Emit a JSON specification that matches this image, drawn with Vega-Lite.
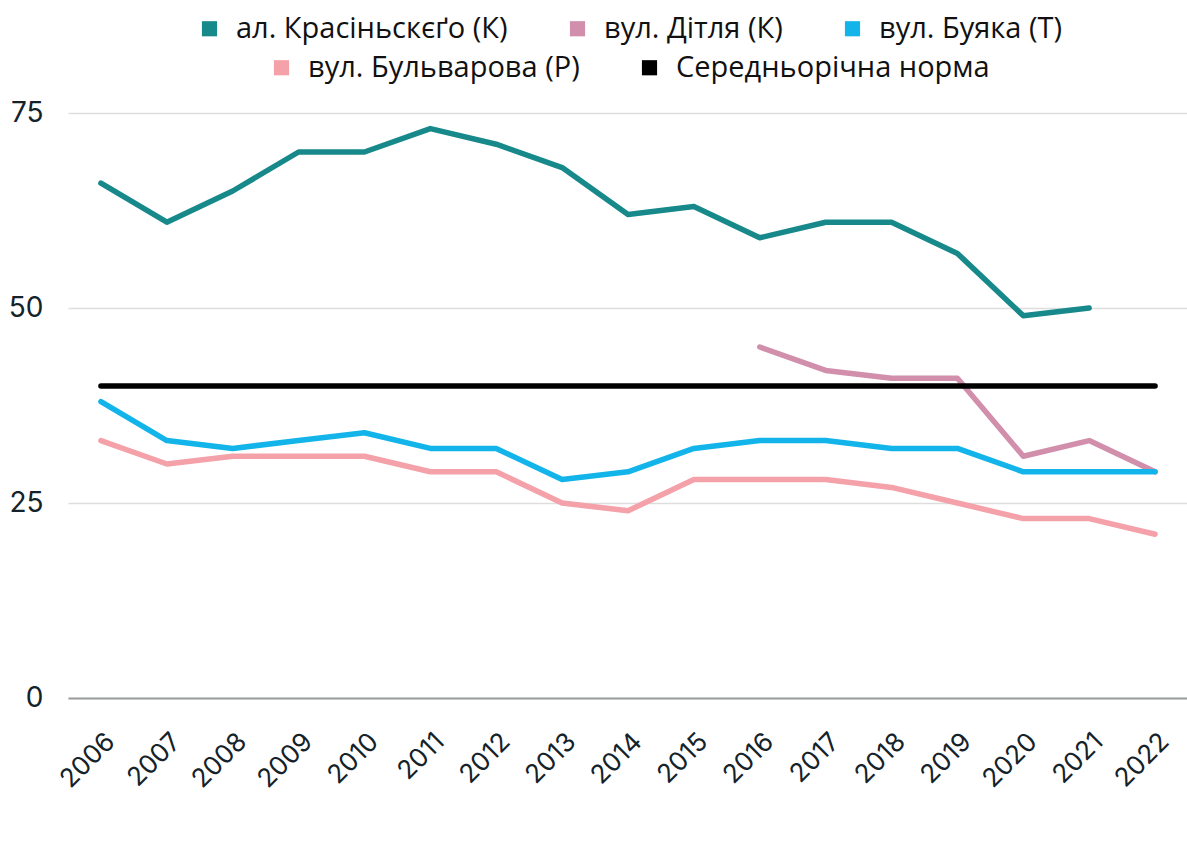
{
  "$schema": "https://vega.github.io/schema/vega-lite/v6.json",
  "width": 1120,
  "height": 585,
  "autosize": "none",
  "padding": {"left": 68, "top": 113, "right": 0, "bottom": 145},
  "background": "white",
  "datasets": {
    "rows": [
      {"year": "2006", "series": "ал. Красіньскєґо (К)", "value": 66},
      {"year": "2007", "series": "ал. Красіньскєґо (К)", "value": 61},
      {"year": "2008", "series": "ал. Красіньскєґо (К)", "value": 65},
      {"year": "2009", "series": "ал. Красіньскєґо (К)", "value": 70},
      {"year": "2010", "series": "ал. Красіньскєґо (К)", "value": 70},
      {"year": "2011", "series": "ал. Красіньскєґо (К)", "value": 73},
      {"year": "2012", "series": "ал. Красіньскєґо (К)", "value": 71},
      {"year": "2013", "series": "ал. Красіньскєґо (К)", "value": 68},
      {"year": "2014", "series": "ал. Красіньскєґо (К)", "value": 62},
      {"year": "2015", "series": "ал. Красіньскєґо (К)", "value": 63},
      {"year": "2016", "series": "ал. Красіньскєґо (К)", "value": 59},
      {"year": "2017", "series": "ал. Красіньскєґо (К)", "value": 61},
      {"year": "2018", "series": "ал. Красіньскєґо (К)", "value": 61},
      {"year": "2019", "series": "ал. Красіньскєґо (К)", "value": 57},
      {"year": "2020", "series": "ал. Красіньскєґо (К)", "value": 49},
      {"year": "2021", "series": "ал. Красіньскєґо (К)", "value": 50},
      {"year": "2016", "series": "вул. Дітля (К)", "value": 45},
      {"year": "2017", "series": "вул. Дітля (К)", "value": 42},
      {"year": "2018", "series": "вул. Дітля (К)", "value": 41},
      {"year": "2019", "series": "вул. Дітля (К)", "value": 41},
      {"year": "2020", "series": "вул. Дітля (К)", "value": 31},
      {"year": "2021", "series": "вул. Дітля (К)", "value": 33},
      {"year": "2022", "series": "вул. Дітля (К)", "value": 29},
      {"year": "2006", "series": "вул. Буяка (Т)", "value": 38},
      {"year": "2007", "series": "вул. Буяка (Т)", "value": 33},
      {"year": "2008", "series": "вул. Буяка (Т)", "value": 32},
      {"year": "2009", "series": "вул. Буяка (Т)", "value": 33},
      {"year": "2010", "series": "вул. Буяка (Т)", "value": 34},
      {"year": "2011", "series": "вул. Буяка (Т)", "value": 32},
      {"year": "2012", "series": "вул. Буяка (Т)", "value": 32},
      {"year": "2013", "series": "вул. Буяка (Т)", "value": 28},
      {"year": "2014", "series": "вул. Буяка (Т)", "value": 29},
      {"year": "2015", "series": "вул. Буяка (Т)", "value": 32},
      {"year": "2016", "series": "вул. Буяка (Т)", "value": 33},
      {"year": "2017", "series": "вул. Буяка (Т)", "value": 33},
      {"year": "2018", "series": "вул. Буяка (Т)", "value": 32},
      {"year": "2019", "series": "вул. Буяка (Т)", "value": 32},
      {"year": "2020", "series": "вул. Буяка (Т)", "value": 29},
      {"year": "2021", "series": "вул. Буяка (Т)", "value": 29},
      {"year": "2022", "series": "вул. Буяка (Т)", "value": 29},
      {"year": "2006", "series": "вул. Бульварова (Р)", "value": 33},
      {"year": "2007", "series": "вул. Бульварова (Р)", "value": 30},
      {"year": "2008", "series": "вул. Бульварова (Р)", "value": 31},
      {"year": "2009", "series": "вул. Бульварова (Р)", "value": 31},
      {"year": "2010", "series": "вул. Бульварова (Р)", "value": 31},
      {"year": "2011", "series": "вул. Бульварова (Р)", "value": 29},
      {"year": "2012", "series": "вул. Бульварова (Р)", "value": 29},
      {"year": "2013", "series": "вул. Бульварова (Р)", "value": 25},
      {"year": "2014", "series": "вул. Бульварова (Р)", "value": 24},
      {"year": "2015", "series": "вул. Бульварова (Р)", "value": 28},
      {"year": "2016", "series": "вул. Бульварова (Р)", "value": 28},
      {"year": "2017", "series": "вул. Бульварова (Р)", "value": 28},
      {"year": "2018", "series": "вул. Бульварова (Р)", "value": 27},
      {"year": "2019", "series": "вул. Бульварова (Р)", "value": 25},
      {"year": "2020", "series": "вул. Бульварова (Р)", "value": 23},
      {"year": "2021", "series": "вул. Бульварова (Р)", "value": 23},
      {"year": "2022", "series": "вул. Бульварова (Р)", "value": 21},
      {"year": "2006", "series": "Середньорічна норма", "value": 40},
      {"year": "2022", "series": "Середньорічна норма", "value": 40}
    ]
  },
  "data": {"name": "rows"},
  "encoding": {
    "x": {
      "field": "year", "type": "ordinal",
      "scale": {"type": "point", "padding": 0.5, "domain": ["2006","2007","2008","2009","2010","2011","2012","2013","2014","2015","2016","2017","2018","2019","2020","2021","2022"]},
      "axis": {
        "title": null, "labelAngle": -45, "labelFont": "Inter", "labelFontSize": 26,
        "labelColor": "#14222a", "ticks": false, "domainColor": "#9a9e9e", "domainWidth": 2,
        "labelPadding": 30, "grid": false
      }
    },
    "y": {
      "field": "value", "type": "quantitative",
      "scale": {"domain": [0, 75]},
      "axis": {
        "title": null, "values": [0, 25, 50, 75], "labelFont": "Inter", "labelFontSize": 28,
        "labelColor": "#14222a", "ticks": false, "domain": false, "labelPadding": 25,
        "gridColor": "#dddddd", "gridWidth": 1.5
      }
    }
  },
  "layer": [
    {
      "transform": [{"filter": "datum.series == 'ал. Красіньскєґо (К)' || datum.series == 'вул. Дітля (К)' || datum.series == 'вул. Буяка (Т)'"}],
      "mark": {"type": "line", "strokeWidth": 5.5, "strokeCap": "round", "strokeJoin": "round"},
      "encoding": {
        "color": {
          "field": "series", "type": "nominal",
          "scale": {"domain": ["ал. Красіньскєґо (К)", "вул. Дітля (К)", "вул. Буяка (Т)"], "range": ["#17898a", "#d18fab", "#13b4ea"]},
          "legend": {
            "title": null, "orient": "top", "direction": "horizontal", "offset": 30,
            "symbolType": "square", "symbolSize": 230, "symbolStrokeWidth": 0,
            "labelFont": "Open Sans", "labelFontSize": 29, "labelColor": "#111111",
            "columnPadding": 55, "labelOffset": 12, "labelLimit": 500,
            "encode": {"symbols": {"update": {"fill": {"scale": "color", "field": "value"}, "strokeWidth": {"value": 0}}}}
          }
        }
      }
    },
    {
      "transform": [{"filter": "datum.series == 'вул. Бульварова (Р)' || datum.series == 'Середньорічна норма'"}],
      "mark": {"type": "line", "strokeWidth": 5.5, "strokeCap": "round", "strokeJoin": "round"},
      "encoding": {
        "stroke": {
          "field": "series", "type": "nominal",
          "scale": {"domain": ["вул. Бульварова (Р)", "Середньорічна норма"], "range": ["#f4a1a9", "#000000"]},
          "legend": {
            "title": null, "orient": "top", "direction": "horizontal", "offset": 30,
            "symbolType": "square", "symbolSize": 230, "symbolStrokeWidth": 0,
            "labelFont": "Open Sans", "labelFontSize": 29, "labelColor": "#111111",
            "columnPadding": 55, "labelOffset": 12, "labelLimit": 500,
            "encode": {"symbols": {"update": {"fill": {"scale": "stroke", "field": "value"}, "strokeWidth": {"value": 0}}}}
          }
        }
      }
    }
  ],
  "config": {
    "view": {"stroke": null},
    "legend": {
      "layout": {"top": {"anchor": "middle", "bounds": "full", "center": true, "direction": "vertical", "margin": 9}}
    }
  }
}
